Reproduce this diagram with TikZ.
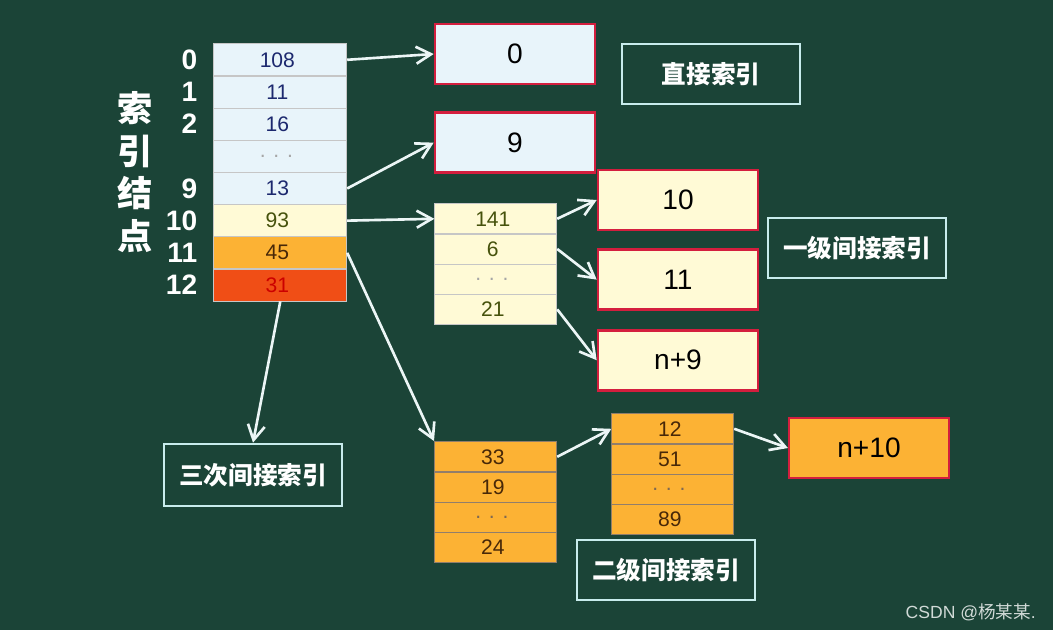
\documentclass[tikz,border=0pt]{standalone}
\usepackage{fontspec}
\setmainfont{Liberation Sans}
\newfontfamily\cjk{Noto Sans CJK SC}
\usetikzlibrary{positioning, arrows.meta, matrix}

\definecolor{board}{RGB}{27,68,55}
\definecolor{ice}{RGB}{232,244,250}
\definecolor{cream}{RGB}{255,250,214}
\definecolor{amber}{RGB}{252,178,52}
\definecolor{flame}{RGB}{240,78,22}
\definecolor{rim}{RGB}{212,30,62}
\definecolor{ink}{RGB}{28,40,110}
\definecolor{moss}{RGB}{70,82,12}
\definecolor{bark}{RGB}{72,40,8}
\definecolor{chalk}{RGB}{236,246,246}
\definecolor{tagline}{RGB}{200,236,236}

\begin{document}
\begin{tikzpicture}[
  x=0.02cm, y=-0.02cm,
  every node/.style={align=center},
  cell/.style={rectangle, draw=gray!45, line width=0.5pt, inner sep=0pt,
               font=\fontsize{12}{14}\selectfont},
  table/.style={matrix of nodes, anchor=north west, inner sep=0pt,
                row sep=-\pgflinewidth},
  block/.style={rectangle, draw=rim, line width=1.5pt, minimum width=3.2cm,
                minimum height=1.2cm, font=\fontsize{16}{18}\selectfont},
  tag/.style={rectangle, draw=tagline, line width=1.5pt, minimum width=3.56cm,
              minimum height=1.2cm, text=white,
              font=\cjk\bfseries\fontsize{14}{16}\selectfont},
  idxlab/.style={anchor=east, text=white, font=\bfseries\fontsize{16}{18}\selectfont},
  arrow/.style={-{Straight Barb[length=3mm, width=3.4mm]}, line width=1.5pt, draw=chalk}
]

% ---- Board ----
\fill [board] (0,0) rectangle (1053,630);
\useasboundingbox (0,0) rectangle (1053,630);

% ---- Index node ----
\matrix (inode) [table, nodes={cell, fill=ice, text=ink, minimum width=2.66cm,
                 minimum height=0.64cm}] at (213,43)
{
  108 \\
  11 \\
  16 \\
  |[text=gray!70]| . . . \\
  13 \\
  |[fill=cream, text=moss]| 93 \\
  |[fill=amber, text=bark]| 45 \\
  |[fill=flame, text=red!80!black]| 31 \\
};

\foreach \r/\t in {1/0, 2/1, 3/2, 5/9, 6/10, 7/11, 8/12}
  \node (lab\r) [idxlab] at ([xshift=-0.2cm]inode-\r-1.west) {\t};

\node (title) [text=white, font=\cjk\bfseries\fontsize{20}{24.4}\selectfont]
  at (135,172) {索\\引\\结\\点};

% ---- Direct blocks ----
\node (d0) [block, fill=ice] at (515,54) {0};
\node (d9) [block, fill=ice, below=0.52cm of d0] {9};
\node (tdirect) [tag] at (711,74) {直接索引};

% ---- Single indirect ----
\matrix (single) [table, nodes={cell, fill=cream, text=moss, minimum width=2.44cm,
                  minimum height=0.6cm}] at (434,203)
{
  141 \\
  6 \\
  |[text=gray!70]| . . . \\
  21 \\
};

\node (s10) [block, fill=cream] at (678,200) {10};
\node (s11) [block, fill=cream, below=0.34cm of s10] {11};
\node (sn9) [block, fill=cream, below=0.36cm of s11] {n+9};
\node (tsingle) [tag] at (857,248) {一级间接索引};

% ---- Double indirect ----
\matrix (dbl1) [table, nodes={cell, draw=bark!60, fill=amber, text=bark,
                minimum width=2.44cm, minimum height=0.6cm}] at (434,441)
{
  33 \\
  19 \\
  |[text=bark!70]| . . . \\
  24 \\
};

\matrix (dbl2) [table, nodes={cell, draw=bark!60, fill=amber, text=bark,
                minimum width=2.44cm, minimum height=0.6cm}] at (611,413)
{
  12 \\
  51 \\
  |[text=bark!70]| . . . \\
  89 \\
};

\node (dn10) [block, fill=amber, line width=1.2pt] at (869,448) {n+10};
\node (tdouble) [tag] at (666,570) {二级间接索引};

% ---- Triple indirect ----
\node (ttriple) [tag, minimum height=1.24cm] at (253,475) {三次间接索引};

% ---- Arrows ----
\draw [arrow] (inode-1-1.east) -- (d0.west);
\draw [arrow] (inode-5-1.east) -- (d9.west);
\draw [arrow] (inode-6-1.east) -- (single-1-1.west);
\draw [arrow] (inode-7-1.east) -- (dbl1.north west);
\draw [arrow] (inode-8-1.south) -- (ttriple.north);
\draw [arrow] (single-1-1.east) -- (s10.west);
\draw [arrow] (single-2-1.east) -- (s11.west);
\draw [arrow] (single-4-1.east) -- (sn9.west);
\draw [arrow] (dbl1-1-1.east) -- (dbl2-1-1.west);
\draw [arrow] (dbl2-1-1.east) -- (dn10.west);

% ---- Watermark ----
\node (mark) [anchor=east, text=white!80!board, font=\fontsize{10}{12}\selectfont]
  at (1042,612) {CSDN @{\cjk 杨某某}.};
\end{tikzpicture}
\end{document}
